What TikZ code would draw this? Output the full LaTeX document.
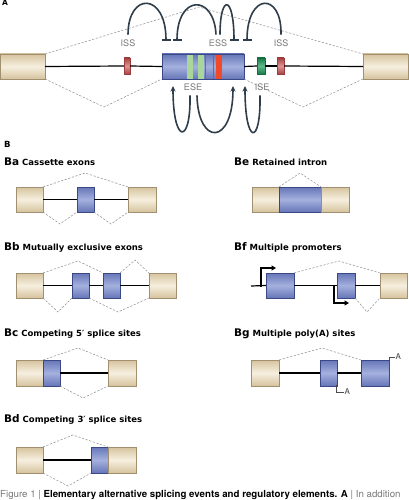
\documentclass[tikz,border=0pt]{standalone}
\usepackage{fontspec}
\setmainfont{TeX Gyre Heros}
\newfontfamily\dvs{DejaVu Sans}
\usetikzlibrary{arrows.meta,calc}
\definecolor{beigeT}{HTML}{D6C39E}
\definecolor{beigeM}{HTML}{F6EFDF}
\definecolor{beigeD}{HTML}{A09070}
\definecolor{blueT}{HTML}{6676B8}
\definecolor{blueM}{HTML}{A5B0DE}
\definecolor{blueD}{HTML}{3A4886}
\definecolor{issR}{HTML}{D06464}
\definecolor{issD}{HTML}{9C3C3C}
\definecolor{essR}{HTML}{F04A2A}
\definecolor{eseG}{HTML}{A9D69B}
\definecolor{iseG}{HTML}{1E9A5A}
\definecolor{arcC}{HTML}{2F3E4A}
\definecolor{labC}{HTML}{7A7A7A}
\definecolor{dashC}{HTML}{8E8E8E}
\begin{document}
\begin{tikzpicture}[x=1pt,y=-1pt,
  beige/.style={draw=beigeD, line width=0.6pt, top color=beigeT, bottom color=beigeT, middle color=beigeM, inner sep=0pt, outer sep=0pt, anchor=north west},
  blue/.style={draw=blueD, line width=0.6pt, top color=blueT, bottom color=blueT, middle color=blueM, inner sep=0pt, outer sep=0pt, anchor=north west},
  redbox/.style={draw=issD, line width=0.5pt, top color=issD!80!issR, bottom color=issD!80!issR, middle color=issR!70!white, inner sep=0pt, outer sep=0pt, anchor=north west},
  isebox/.style={draw=iseG!70!black, line width=0.5pt, top color=iseG!80!black, bottom color=iseG!80!black, middle color=iseG!70!white, inner sep=0pt, outer sep=0pt, anchor=north west},
  box/.style 2 args={minimum width=#1pt, minimum height=#2pt},
  intron/.style={draw=black, line width=1.2pt},
  skip/.style={draw=dashC, line width=0.5pt, dash pattern=on 2.2pt off 1.6pt},
  lab/.style={text=labC, font=\fontsize{9}{10}\selectfont, inner sep=1.5pt, outer sep=3.5pt},
  inhib/.style={draw=arcC, line width=1.6pt, -{Bar[width=9pt,line width=1.6pt]}},
  activ/.style={draw=arcC, line width=1.6pt, -{Stealth[length=5.5pt,width=5pt]}},
  ttl/.style={anchor=base west, inner sep=0pt, font=\dvs\bfseries\fontsize{8.5}{10}\selectfont},
  prom/.style={draw=black, line width=1.5pt, -{Triangle[length=4.5pt,width=5pt]}},
  polyA/.style={draw=black!70, line width=0.5pt},
  plab/.style={text=black!75, font=\fontsize{8}{9}\selectfont, inner sep=0.5pt}
]
\useasboundingbox (0,0) rectangle (408,500);
\fill[white] (0,0) rectangle (408,500);

% ---------------- Panel A ----------------
\node[anchor=base west, inner sep=0pt, font=\dvs\bfseries\fontsize{7.5}{9}\selectfont] (tA) at (2,5.5) {A};
\node[beige, box={45}{25}] (aL) at (0,54) {};
\node[beige, box={45}{25}] (aR) at (363,54) {};
\node[redbox, box={6}{16}] (iss1) at (124,58) {};
\node[blue, box={82}{25}] (aE) at (162,54) {};
\fill[eseG] (187,54.3) rectangle (193,78.7);
\fill[eseG] (198,54.3) rectangle (204,78.7);
\draw[blueD!80, line width=0.4pt] (205,54.3) -- (205,78.7);
\draw[blueD!80, line width=0.4pt] (213,54.3) -- (213,78.7);
\fill[essR] (216,54.3) rectangle (222,78.7);
\draw[blueD, line width=0.6pt] (aE.north west) rectangle (aE.south east);
\node[isebox, box={8}{16}] (ise) at (257,58) {};
\node[redbox, box={7}{16}] (iss2) at (277,58) {};
\draw[intron] (aL.east) -- (iss1.west);
\draw[intron] (iss1.east) -- (aE.west);
\draw[intron] (aE.east) -- (ise.west);
\draw[intron] (ise.east) -- (iss2.west);
\draw[intron] (iss2.east) -- (aR.west);

\coordinate (aUp) at (199,7);
\coordinate (aD1) at (104,107);
\coordinate (aD2) at (303,107);
\draw[skip] (aL.north east) -- (aUp) -- (aR.north west);
\draw[skip] (aL.south east) -- (aD1) -- (aE.south west);
\draw[skip] (aE.south east) -- (aD2) -- (aR.south west);

\node[lab] (lISS1) at (128,43) {ISS};
\node[lab] (lESS) at (218,43) {ESS};
\node[lab] (lISS2) at (281,43) {ISS};
\node[lab] (lESE) at (193,87) {ESE};
\node[lab] (lISE) at (262,87) {ISE};

\coordinate (bar1) at (166,41);
\coordinate (bar2) at (177,41);
\coordinate (bar3) at (234,41);
\coordinate (bar4) at (247,41);
\draw[inhib] (lISS1.north) .. controls (128,-8) and (166,-8) .. (bar1);
\draw[inhib] ($(lESS.north)+(-2,0)$) .. controls (214,-6) and (177,-6) .. (bar2);
\draw[inhib] ($(lESS.north)+(2,0)$) .. controls (220,-6) and (234,-6) .. (bar3);
\draw[inhib] (lISS2.north) .. controls (282,-8) and (247,-8) .. (bar4);

\coordinate (up1) at (173,86);
\coordinate (up2) at (233,86);
\coordinate (up3) at (245,86);
\draw[activ] ($(lESE.south)+(-3,0)$) .. controls (191,145) and (173,145) .. (up1);
\draw[activ] ($(lESE.south)+(4,0)$) .. controls (198,146) and (233,146) .. (up2);
\draw[activ] ($(lISE.south)+(-2,0)$) .. controls (261,146) and (245,146) .. (up3);

% ---------------- Panel B ----------------
\node[anchor=base west, inner sep=0pt, font=\dvs\bfseries\fontsize{8.5}{10}\selectfont] (tB) at (4,147) {B};

% Ba
\node[ttl] (tBa) at (4,165.5) {{\fontsize{10.5}{12}\selectfont Ba} Cassette exons};
\node[beige, box={27}{25}] (baL) at (16,187) {};
\node[blue, box={17}{25}] (baE) at (77,187) {};
\node[beige, box={28}{25}] (baR) at (128,187) {};
\draw[intron] (baL.east) -- (baE.west);
\draw[intron] (baE.east) -- (baR.west);
\coordinate (baU) at (85,173);
\coordinate (baD1) at (60,224);
\coordinate (baD2) at (111,224);
\draw[skip] (baL.north east) -- (baU) -- (baR.north west);
\draw[skip] (baL.south east) -- (baD1) -- (baE.south west);
\draw[skip] (baE.south east) -- (baD2) -- (baR.south west);

% Bb
\node[ttl] (tBb) at (4,250.5) {{\fontsize{10.5}{12}\selectfont Bb} Mutually exclusive exons};
\node[beige, box={27}{25}] (bbL) at (16,273) {};
\node[blue, box={17}{25}] (bbE1) at (72,273) {};
\node[blue, box={17}{25}] (bbE2) at (103,273) {};
\node[beige, box={27}{25}] (bbR) at (149,273) {};
\draw[intron] (bbL.east) -- (bbE1.west);
\draw[intron] (bbE1.east) -- (bbE2.west);
\draw[intron] (bbE2.east) -- (bbR.west);
\coordinate (bbU1) at (78,261);
\coordinate (bbU2) at (135,260);
\coordinate (bbD1) at (58,312);
\coordinate (bbD2) at (118,312);
\draw[skip] (bbL.north east) -- (bbU1) -- (bbE2.north west);
\draw[skip] (bbE2.north east) -- (bbU2) -- (bbR.north west);
\draw[skip] (bbL.south east) -- (bbD1) -- (bbE1.south west);
\draw[skip] (bbE1.south east) -- (bbD2) -- (bbR.south west);

% Bc
\node[ttl] (tBc) at (4,336.5) {{\fontsize{10.5}{12}\selectfont Bc} Competing 5′ splice sites};
\node[beige, box={27}{26}] (bcL) at (16,360) {};
\node[blue, box={17}{26}] (bcE) at (43,360) {};
\node[beige, box={28}{26}] (bcR) at (108,360) {};
\draw[intron] (bcE.east) -- (bcR.west);
\coordinate (bcU) at (78,348);
\coordinate (bcD) at (83,398);
\draw[skip] (bcL.north east) -- (bcU) -- (bcR.north west);
\draw[skip] (bcE.south east) -- (bcD) -- (bcR.south west);

% Bd
\node[ttl] (tBd) at (4,422.5) {{\fontsize{10.5}{12}\selectfont Bd} Competing 3′ splice sites};
\node[beige, box={27}{26}] (bdL) at (16,447) {};
\node[blue, box={17}{26}] (bdE) at (91,447) {};
\node[beige, box={28}{26}] (bdR) at (108,447) {};
\draw[intron] (bdL.east) -- (bdE.west);
\coordinate (bdU) at (73,435);
\coordinate (bdD) at (68,486);
\draw[skip] (bdL.north east) -- (bdU) -- (bdR.north west);
\draw[skip] (bdL.south east) -- (bdD) -- (bdE.south west);

% Be
\node[ttl] (tBe) at (234,165.5) {{\fontsize{10.5}{12}\selectfont Be} Retained intron};
\node[beige, box={27}{25}] (beL) at (252,187) {};
\node[blue, box={42}{25}] (beE) at (279,187) {};
\node[beige, box={28}{25}] (beR) at (321,187) {};
\coordinate (beU) at (300,173);
\draw[skip] (beE.north west) -- (beU) -- (beE.north east);

% Bf
\node[ttl] (tBf) at (234,250.5) {{\fontsize{10.5}{12}\selectfont Bf} Multiple promoters};
\coordinate (bfS) at (251,286);
\node[blue, box={28}{25}] (bfE1) at (266,273) {};
\node[blue, box={18}{25}] (bfE2) at (337,273) {};
\node[beige, box={27}{25}] (bfR) at (380,273) {};
\draw[intron] (bfS) -- (bfE1.west);
\draw[intron] (bfE1.east) -- (bfE2.west);
\draw[intron] (bfE2.east) -- (bfR.west);
\coordinate (bfU) at (339,261);
\coordinate (bfD) at (367,312);
\draw[skip] (bfE1.north east) -- (bfU) -- (bfR.north west);
\draw[skip] (bfE2.south east) -- (bfD) -- (bfR.south west);
\coordinate (p1a) at (261,286.5);
\coordinate (p1b) at (276,268);
\coordinate (p2a) at (334,285.5);
\coordinate (p2b) at (349,303);
\draw[prom] (p1a) |- (p1b);
\draw[prom] (p2a) |- (p2b);

% Bg
\node[ttl] (tBg) at (234,336.5) {{\fontsize{10.5}{12}\selectfont Bg} Multiple poly(A) sites};
\node[beige, box={28}{26}] (bgL) at (251,360) {};
\node[blue, box={17}{26}] (bgE1) at (320,360) {};
\node[blue, box={28}{26}] (bgE2) at (361,360) {};
\draw[intron] (bgL.east) -- (bgE1.west);
\draw[intron] (bgE1.east) -- (bgE2.west);
\coordinate (bgU) at (322,348);
\draw[skip] (bgL.north east) -- (bgU) -- (bgE2.north west);
\node[plab, anchor=west] (pa1) at (344,392) {A};
\node[plab, anchor=west] (pa2) at (395,357) {A};
\draw[polyA] ($(bgE1.south east)+(-1,-1)$) |- (pa1.west);
\draw[polyA] ($(bgE2.north east)+(0,1)$) |- (pa2.west);

% Caption
\node[anchor=base west, inner sep=0pt, font=\fontsize{9.7}{10}\selectfont] (cap) at (0,497.5) {\textcolor{labC}{Figure 1 |} \textbf{Elementary alternative splicing events and regulatory elements.} \textbf{A} \textcolor{labC}{| In addition}};
\end{tikzpicture}
\end{document}
